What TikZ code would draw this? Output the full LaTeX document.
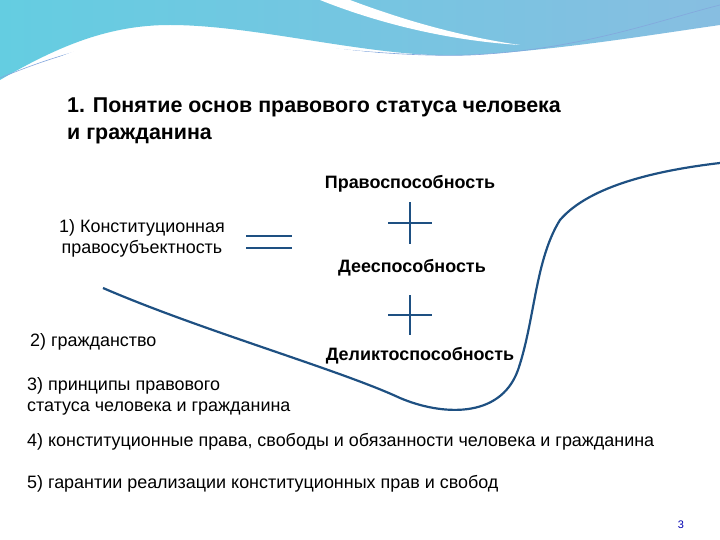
\documentclass[tikz,border=0pt]{standalone}
\usepackage{fontspec}
\setmainfont{Liberation Sans}
\definecolor{lnc}{RGB}{30,80,130}
\begin{document}
\begin{tikzpicture}[x=1bp,y=-1bp,
  txt/.style={font=\fontsize{18}{21}\selectfont,inner sep=0pt,align=center},
  bld/.style={txt,font=\fontsize{18}{21}\selectfont\bfseries},
  ln/.style={draw=lnc,line width=1.2pt}]
\useasboundingbox (0,0) rectangle (720,540);
\fill[white] (0,0) rectangle (720,540);
% background swoosh
\shade[left color={rgb,255:red,100;green,205;blue,225},right color={rgb,255:red,135;green,190;blue,225}]
  (0,0) -- (0,80) .. controls (60,45) and (110,25) .. (170,25)
  .. controls (260,25) and (380,60) .. (470,55)
  .. controls (560,50) and (650,35) .. (720,25) -- (720,0) -- cycle;
\fill[white] (320,0) .. controls (370,20) and (440,40) .. (520,45)
  .. controls (450,35) and (390,15) .. (350,0) -- cycle;
\draw[cyan!50!blue!50,line width=0.6pt] (0,78) .. controls (80,45) and (130,38) .. (180,38)
  .. controls (280,40) and (380,58) .. (470,55) .. controls (580,50) and (660,20) .. (720,5);
\fill[white] (0,90) .. controls (60,50) and (120,30) .. (190,33)
  .. controls (290,38) and (380,60) .. (480,58)
  .. controls (580,55) and (660,40) .. (720,30) -- (720,60) -- (0,100) -- cycle;
\fill[white] (0,100) rectangle (720,540);
% title
\node[anchor=west,align=left,font=\fontsize{21.5}{27}\selectfont\bfseries,inner sep=0pt] (title) at (67,121)
  {1. Понятие основ правового статуса человека\\и гражданина};
% nodes
\node[txt] (k) at (142,238) {1) Конституционная\\правосубъектность};
\node[txt,anchor=west] (g) at (30,342) {2) гражданство};
\node[txt,anchor=west,align=left] (p) at (27,396) {3) принципы правового\\статуса человека и гражданина};
\node[txt,anchor=west] (r) at (27,442) {4) конституционные права, свободы и обязанности человека и гражданина};
\node[txt,anchor=west] (gar) at (27,484) {5) гарантии реализации конституционных прав и свобод};
\node[bld] (pr) at (410,184) {Правоспособность};
\node[bld] (de) at (412,268) {Дееспособность};
\node[bld] (del) at (420,356) {Деликтоспособность};
\node[font=\fontsize{11}{13}\selectfont,text=blue!70!black] (num) at (681,525) {3};
% symbols
\coordinate (c1) at (410,223); \coordinate (c2) at (410,315);
\draw[ln,line width=1.1pt] ([xshift=-22]c1) -- ([xshift=22]c1) ([yshift=-21]c1) -- ([yshift=21]c1);
\draw[ln,line width=1.1pt] ([xshift=-22]c2) -- ([xshift=22]c2) ([yshift=-20]c2) -- ([yshift=20]c2);
\coordinate (e1) at (246,236); \coordinate (e2) at (246,248);
\draw[ln,line width=1.1pt] (e1) -- ++(46,0) (e2) -- ++(46,0);
% curve
\coordinate (s) at (103,288); \coordinate (f) at (720,163);
\draw[ln,line width=2.2pt] (s) .. controls (200,330) and (340,370) .. (400,398)
  .. controls (440,415) and (500,420) .. (518,370)
  .. controls (535,320) and (535,260) .. (560,220)
  .. controls (590,185) and (660,170) .. (f);
\end{tikzpicture}
\end{document}
